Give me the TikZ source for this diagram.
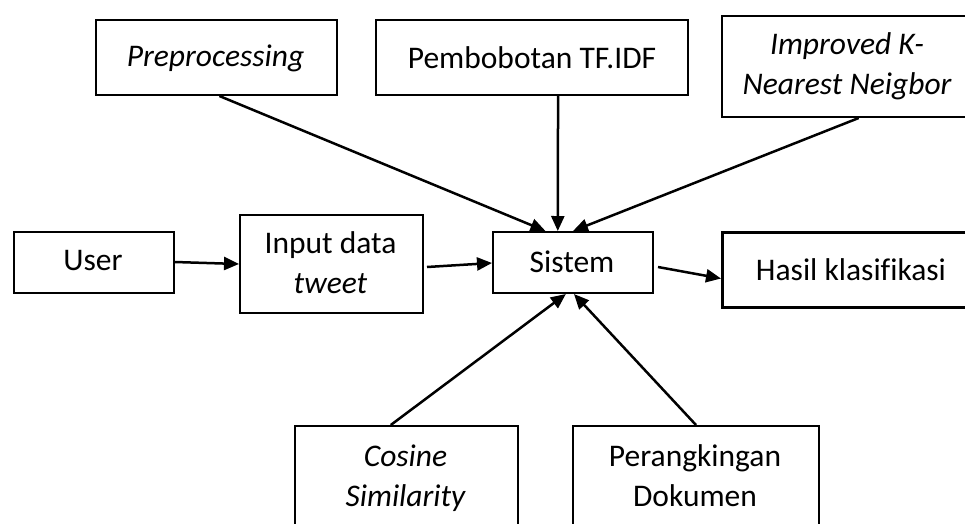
\documentclass[tikz,border=0pt]{standalone}
\usepackage{fontspec}
\setmainfont[Ligatures=NoCommon]{Carlito}
\usetikzlibrary{arrows.meta,calc}
\begin{document}
\begin{tikzpicture}[x=1pt,y=-1pt,
  box/.style={draw=black, line width=2pt, fill=white, anchor=north west, inner sep=0pt},
  lbl/.style={font=\fontsize{31.5}{40}\selectfont, align=center, inner sep=0pt, anchor=base},
  itl/.style={lbl, font=\fontsize{31.5}{40}\selectfont\itshape},
  conn/.style={line width=2.5pt, -{Triangle[length=15pt,width=13pt]}}]
\useasboundingbox (0,0) rectangle (965,523);
\clip (0,0) rectangle (965,523);
% boxes
\node[box, minimum width=241pt, minimum height=75pt] (pre) at (95,19) {};
\node[box, minimum width=312pt, minimum height=75pt] (tfidf) at (375,19) {};
\node[box, minimum width=252pt, minimum height=101pt] (iknn) at (721,15) {};
\node[box, minimum width=160pt, minimum height=61pt] (user) at (13,231) {};
\node[box, minimum width=183pt, minimum height=98pt] (input) at (239,214) {};
\node[box, minimum width=160pt, minimum height=61pt] (sis) at (492,231) {};
\node[box, minimum width=260pt, minimum height=75pt, line width=3pt] (hasil) at (721,230.5) {};
\node[box, minimum width=223pt, minimum height=140pt] (cos) at (294,425) {};
\node[box, minimum width=246pt, minimum height=140pt] (rank) at (572,425) {};
% texts (anchor=base is the baseline of the last line)
\node[itl] (pre-t) at (215.5,66) {Preprocessing};
\node[lbl] (tfidf-t) at (532,68) {Pembobotan TF.IDF};
\node[itl] (iknn-t) at (847,94) {Improved K-\\Nearest Neigbor};
\node[lbl] (user-t) at (93,270) {User};
\node[lbl] (input-t) at (330.5,293) {Input data\\\textit{tweet}};
\node[lbl] (sis-t) at (572,272) {Sistem};
\node[lbl] (hasil-t) at (851,280) {Hasil klasifikasi};
\node[itl] (cos-t) at (405.5,506) {Cosine\\Similarity};
\node[lbl] (rank-t) at (695,506) {Perangkingan\\Dokumen};
% connectors
\coordinate (sisTopL) at ($(sis.north west)!0.33!(sis.north east)$);
\coordinate (sisTopM) at ($(sis.north west)!0.406!(sis.north east)$);
\coordinate (sisTopR) at ($(sis.north west)!0.50!(sis.north east)$);
\coordinate (sisBotL) at ($(sis.south west)!0.456!(sis.south east)$);
\coordinate (sisBotR) at ($(sis.south west)!0.506!(sis.south east)$);
\draw[conn] ($(pre.south west)!0.512!(pre.south east)$) -- (sisTopL);
\draw[conn] ($(tfidf.south west)!0.583!(tfidf.south east)$) -- (sisTopM);
\draw[conn] ($(iknn.south west)!0.542!(iknn.south east)$) -- (sisTopR);
\draw[conn] ($(user.east)+(0,-0.5)$) -- ($(input.west)+(0,0)$);
\draw[conn] ($(input.east)+(3,3)$) -- ($(sis.west)+(0,0.5)$);
\draw[conn] ($(sis.east)+(4,4.5)$) -- ($(hasil.west)+(0,9)$);
\draw[conn] ($(cos.north west)!0.43!(cos.north east)$) -- (sisBotL);
\draw[conn] ($(rank.north west)!0.5!(rank.north east)$) -- (sisBotR);
\end{tikzpicture}
\end{document}
